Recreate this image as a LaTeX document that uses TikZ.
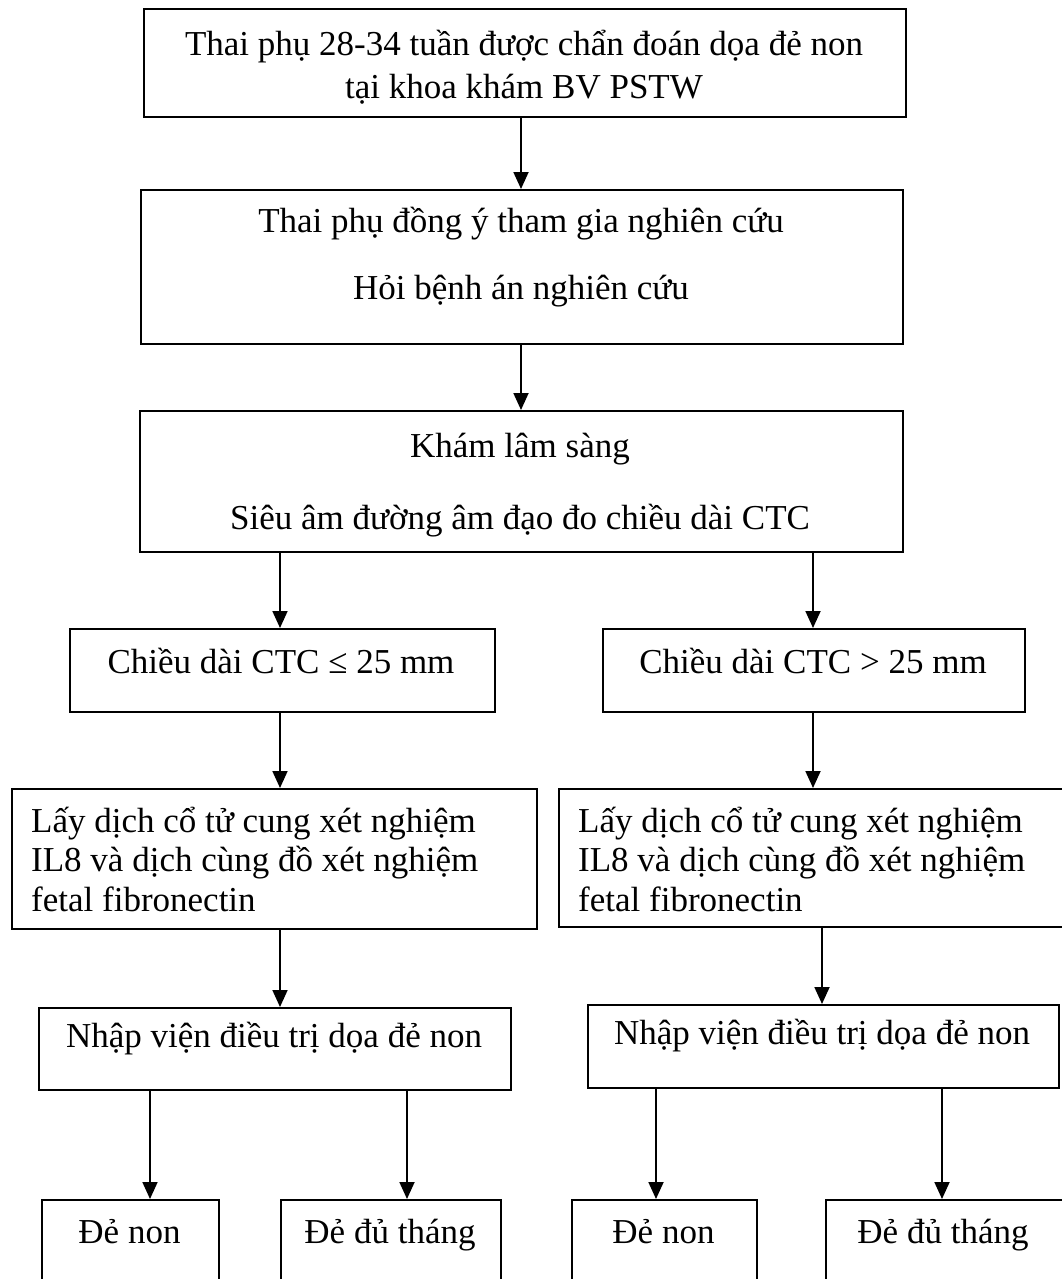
\documentclass[tikz,border=0pt]{standalone}
\usepackage{fontspec}
\setmainfont{Liberation Serif}
\usetikzlibrary{arrows.meta}
\begin{document}
\begin{tikzpicture}[x=1pt,y=-1pt,
  box/.style={draw,line width=1.8pt,inner sep=0pt,anchor=north west},
  conn/.style={line width=1.8pt,-{Triangle[length=17pt,width=15pt]}},
  txt/.style={inner sep=0pt,anchor=base,font=\fontsize{35}{40}\selectfont},
  ltxt/.style={inner sep=0pt,anchor=base west,font=\fontsize{35}{40}\selectfont}]
\useasboundingbox (0,0) rectangle (1062,1279);
\clip (0,0) rectangle (1062,1279);
% boxes
\node[box,minimum width=762pt,minimum height=108pt] (b1) at (143,8) {};
\node[box,minimum width=762pt,minimum height=154pt] (b2) at (140,189) {};
\node[box,minimum width=763pt,minimum height=141pt] (b3) at (139,410) {};
\node[box,minimum width=425pt,minimum height=83pt] (b4l) at (69,628) {};
\node[box,minimum width=422pt,minimum height=83pt] (b4r) at (602,628) {};
\node[box,minimum width=525pt,minimum height=140pt] (b5l) at (11,788) {};
\node[box,minimum width=520pt,minimum height=138pt] (b5r) at (558,788) {};
\node[box,minimum width=472pt,minimum height=82pt] (b6l) at (38,1007) {};
\node[box,minimum width=471pt,minimum height=83pt] (b6r) at (587,1004) {};
\node[box,minimum width=177pt,minimum height=120pt] (b7a) at (41,1199) {};
\node[box,minimum width=220pt,minimum height=120pt] (b7b) at (280,1199) {};
\node[box,minimum width=185pt,minimum height=120pt] (b7c) at (571,1199) {};
\node[box,minimum width=250pt,minimum height=120pt] (b7d) at (825,1199) {};
% texts
\node[txt] (t1a) at (524,56) {Thai phụ 28-34 tuần được chẩn đoán dọa đẻ non};
\node[txt] (t1b) at (524,99) {tại khoa khám BV PSTW};
\node[txt] (t2a) at (521,232) {Thai phụ đồng ý tham gia nghiên cứu};
\node[txt] (t2b) at (521,299) {Hỏi bệnh án nghiên cứu};
\node[txt] (t3a) at (520,457) {Khám lâm sàng};
\node[txt] (t3b) at (520,529) {Siêu âm đường âm đạo đo chiều dài CTC};
\node[txt] (t4l) at (281,673) {Chiều dài CTC ≤ 25 mm};
\node[txt] (t4r) at (813,673) {Chiều dài CTC > 25 mm};
\node[ltxt] (t5la) at (31,832) {Lấy dịch cổ tử cung xét nghiệm};
\node[ltxt] (t5lb) at (31,871) {IL8 và dịch cùng đồ xét nghiệm};
\node[ltxt] (t5lc) at (31,911) {fetal fibronectin};
\node[ltxt] (t5ra) at (578,832) {Lấy dịch cổ tử cung xét nghiệm};
\node[ltxt] (t5rb) at (578,871) {IL8 và dịch cùng đồ xét nghiệm};
\node[ltxt] (t5rc) at (578,911) {fetal fibronectin};
\node[txt] (t6l) at (274,1047) {Nhập viện điều trị dọa đẻ non};
\node[txt] (t6r) at (822,1044) {Nhập viện điều trị dọa đẻ non};
\node[txt] (t7a) at (129.5,1243) {Đẻ non};
\node[txt] (t7b) at (390,1243) {Đẻ đủ tháng};
\node[txt] (t7c) at (663.5,1243) {Đẻ non};
\node[txt] (t7d) at (943,1243) {Đẻ đủ tháng};
% columns
\coordinate (xm) at (521,0);
\coordinate (xl) at (280,0);
\coordinate (xr) at (813,0);
\coordinate (xr2) at (822,0);
\coordinate (c1) at (150,0);
\coordinate (c2) at (407,0);
\coordinate (c3) at (656,0);
\coordinate (c4) at (942,0);
% connectors
\draw[conn] (b1.south -| xm) -- (b2.north -| xm);
\draw[conn] (b2.south -| xm) -- (b3.north -| xm);
\draw[conn] (b3.south -| xl) -- (b4l.north -| xl);
\draw[conn] (b3.south -| xr) -- (b4r.north -| xr);
\draw[conn] (b4l.south -| xl) -- (b5l.north -| xl);
\draw[conn] (b4r.south -| xr) -- (b5r.north -| xr);
\draw[conn] (b5l.south -| xl) -- (b6l.north -| xl);
\draw[conn] (b5r.south -| xr2) -- (b6r.north -| xr2);
\draw[conn] (b6l.south -| c1) -- (b7a.north -| c1);
\draw[conn] (b6l.south -| c2) -- (b7b.north -| c2);
\draw[conn] (b6r.south -| c3) -- (b7c.north -| c3);
\draw[conn] (b6r.south -| c4) -- (b7d.north -| c4);
\end{tikzpicture}
\end{document}
